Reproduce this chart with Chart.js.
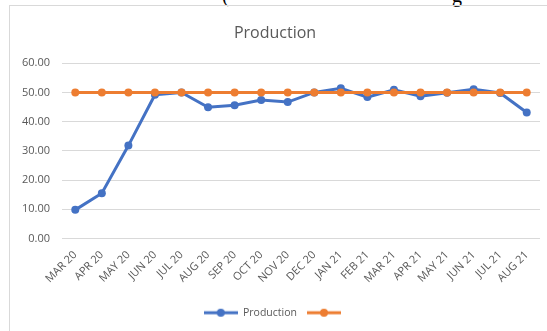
<!DOCTYPE html>
<html><head><meta charset="utf-8">
<script src="https://cdn.jsdelivr.net/npm/chart.js@4/dist/chart.umd.min.js"></script>
<style>
html,body{margin:0;padding:0;background:#fff;overflow:hidden;width:547px;height:331px;}
#frame{position:absolute;left:9px;top:5px;width:580px;height:360px;border:1px solid #d9d9d9;box-sizing:border-box;}
#wrap{position:absolute;left:0;top:0;width:547px;height:331px;}
.frag{position:absolute;top:-15px;font-family:"Liberation Serif",serif;font-size:20px;color:#000;line-height:20px;}
</style></head><body>
<div class="frag" style="left:222px">(</div><div class="frag" style="left:452px">g</div>
<div id="frame"></div>
<div id="wrap"><canvas id="c" width="547" height="331"></canvas></div>
<script>
const categories = ["MAR 20","APR 20","MAY 20","JUN 20","JUL 20","AUG 20","SEP 20","OCT 20","NOV 20","DEC 20","JAN 21","FEB 21","MAR 21","APR 21","MAY 21","JUN 21","JUL 21","AUG 21"];
const productionValues = [9.8,15.5,31.8,49.2,50.0,44.9,45.6,47.4,46.7,50.0,51.4,48.4,50.9,48.7,49.9,51.1,49.8,43.1];
const targetValues = [50,50,50,50,50,50,50,50,50,50,50,50,50,50,50,50,50,50];
const seriesNames = ["Production",""];
const chartTitle = "Production";
const yMin = 0, yMax = 60, yStep = 10;

const BLUE = "#4472C4", ORANGE = "#ED7D31", TEXT = "#595959";
const FONT = "'Open Sans', sans-serif";

function legendMarker(color){
  const c = document.createElement('canvas');
  c.width = 34; c.height = 10;
  const g = c.getContext('2d');
  g.strokeStyle = color; g.lineWidth = 3;
  g.beginPath(); g.moveTo(0,5); g.lineTo(34,5); g.stroke();
  g.fillStyle = color;
  g.beginPath(); g.arc(17,5,4,0,Math.PI*2); g.fill();
  return c;
}
const markers = [legendMarker(BLUE), legendMarker(ORANGE)];

new Chart(document.getElementById('c'), {
  type: 'line',
  data: {
    labels: categories,
    datasets: [
      {label: seriesNames[0], data: productionValues, borderColor: BLUE, backgroundColor: BLUE,
       borderWidth: 3, pointRadius: 4, pointBackgroundColor: BLUE, pointBorderWidth: 0, tension: 0, order: 2},
      {label: seriesNames[1], data: targetValues, borderColor: ORANGE, backgroundColor: ORANGE,
       borderWidth: 3, pointRadius: 4, pointBackgroundColor: ORANGE, pointBorderWidth: 0, tension: 0, order: 1}
    ]
  },
  options: {
    responsive: false,
    animation: false,
    devicePixelRatio: 1,
    layout: {padding: {left: 10, right: 7, top: 16, bottom: 3}},
    plugins: {
      title: {display: true, text: chartTitle, color: TEXT,
              font: {family: FONT, size: 16, weight: 'normal'}, padding: {top: 8, bottom: 20}},
      legend: {position: 'bottom',
        labels: {usePointStyle: true, pointStyleWidth: 34, color: TEXT, padding: 10,
          font: {family: FONT, size: 10.5},
          generateLabels: (chart) => chart.data.datasets.map((ds, i) => ({
            text: ds.label, pointStyle: markers[i], fillStyle: ds.borderColor,
            strokeStyle: ds.borderColor, lineWidth: 0, hidden: false, datasetIndex: i, fontColor: TEXT
          }))
        }},
      tooltip: {enabled: false}
    },
    scales: {
      x: {
        offset: true,
        grid: {display: false, drawTicks: false, offset: true},
        border: {display: false},
        ticks: {color: TEXT, font: {family: FONT, size: 11}, maxRotation: 45, minRotation: 45, padding: 10, autoSkip: false},
        afterFit: s => { s.height = 59; }
      },
      y: {
        min: yMin, max: yMax,
        grid: {color: '#d9d9d9', lineWidth: 1, drawTicks: false},
        border: {display: false},
        ticks: {stepSize: yStep, color: TEXT, font: {family: FONT, size: 11}, padding: 12,
                callback: v => Number(v).toFixed(2)},
        afterFit: s => { s.width = 52; }
      }
    }
  }
});
</script>
</body></html>
